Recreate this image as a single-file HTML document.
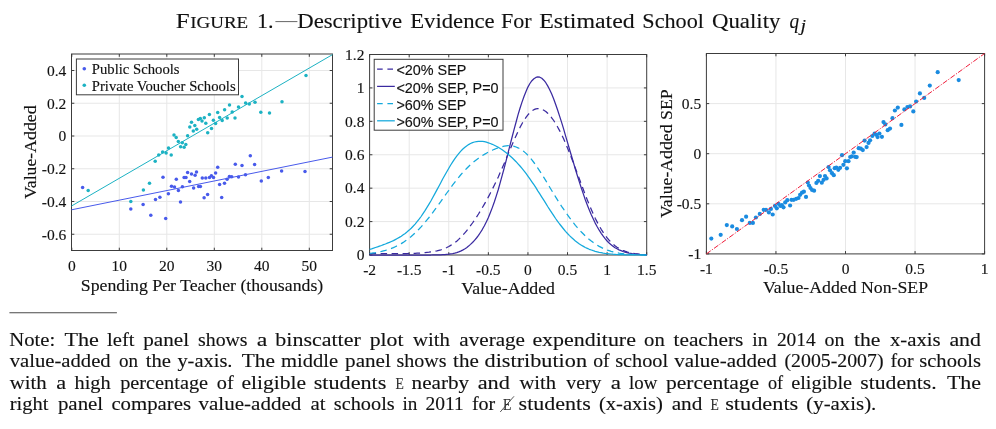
<!DOCTYPE html>
<html><head><meta charset="utf-8"><title>Figure 1</title>
<style>
html,body{margin:0;padding:0;background:#fff;}
body{width:996px;height:429px;overflow:hidden;}
svg{display:block;will-change:transform;font-family:"Liberation Serif", serif;fill:#111;}
svg text{fill:#111;stroke:#111;stroke-width:0.14px;}
svg .cm text{stroke-width:0.12px;}
</style></head><body>
<svg width="996" height="429" viewBox="0 0 996 429">
<rect width="996" height="429" fill="#fff"/>
<g>
<line x1="119.30" y1="54" x2="119.30" y2="250.5" stroke="#e7e7e7" stroke-width="1"/>
<line x1="166.80" y1="54" x2="166.80" y2="250.5" stroke="#e7e7e7" stroke-width="1"/>
<line x1="214.30" y1="54" x2="214.30" y2="250.5" stroke="#e7e7e7" stroke-width="1"/>
<line x1="261.80" y1="54" x2="261.80" y2="250.5" stroke="#e7e7e7" stroke-width="1"/>
<line x1="309.30" y1="54" x2="309.30" y2="250.5" stroke="#e7e7e7" stroke-width="1"/>
<line x1="71.5" y1="70.50" x2="332.5" y2="70.50" stroke="#e7e7e7" stroke-width="1"/>
<line x1="71.5" y1="103.25" x2="332.5" y2="103.25" stroke="#e7e7e7" stroke-width="1"/>
<line x1="71.5" y1="136.00" x2="332.5" y2="136.00" stroke="#e7e7e7" stroke-width="1"/>
<line x1="71.5" y1="168.75" x2="332.5" y2="168.75" stroke="#e7e7e7" stroke-width="1"/>
<line x1="71.5" y1="201.50" x2="332.5" y2="201.50" stroke="#e7e7e7" stroke-width="1"/>
<line x1="71.5" y1="234.25" x2="332.5" y2="234.25" stroke="#e7e7e7" stroke-width="1"/>
<rect x="71.5" y="54" width="261.0" height="196.5" fill="none" stroke="#3c3c3c" stroke-width="1"/>
<line x1="71.80" y1="250.5" x2="71.80" y2="247.7" stroke="#3c3c3c" stroke-width="1"/>
<line x1="71.80" y1="54" x2="71.80" y2="56.8" stroke="#3c3c3c" stroke-width="1"/>
<line x1="119.30" y1="250.5" x2="119.30" y2="247.7" stroke="#3c3c3c" stroke-width="1"/>
<line x1="119.30" y1="54" x2="119.30" y2="56.8" stroke="#3c3c3c" stroke-width="1"/>
<line x1="166.80" y1="250.5" x2="166.80" y2="247.7" stroke="#3c3c3c" stroke-width="1"/>
<line x1="166.80" y1="54" x2="166.80" y2="56.8" stroke="#3c3c3c" stroke-width="1"/>
<line x1="214.30" y1="250.5" x2="214.30" y2="247.7" stroke="#3c3c3c" stroke-width="1"/>
<line x1="214.30" y1="54" x2="214.30" y2="56.8" stroke="#3c3c3c" stroke-width="1"/>
<line x1="261.80" y1="250.5" x2="261.80" y2="247.7" stroke="#3c3c3c" stroke-width="1"/>
<line x1="261.80" y1="54" x2="261.80" y2="56.8" stroke="#3c3c3c" stroke-width="1"/>
<line x1="309.30" y1="250.5" x2="309.30" y2="247.7" stroke="#3c3c3c" stroke-width="1"/>
<line x1="309.30" y1="54" x2="309.30" y2="56.8" stroke="#3c3c3c" stroke-width="1"/>
<line x1="71.5" y1="70.50" x2="74.3" y2="70.50" stroke="#3c3c3c" stroke-width="1"/>
<line x1="332.5" y1="70.50" x2="329.7" y2="70.50" stroke="#3c3c3c" stroke-width="1"/>
<line x1="71.5" y1="103.25" x2="74.3" y2="103.25" stroke="#3c3c3c" stroke-width="1"/>
<line x1="332.5" y1="103.25" x2="329.7" y2="103.25" stroke="#3c3c3c" stroke-width="1"/>
<line x1="71.5" y1="136.00" x2="74.3" y2="136.00" stroke="#3c3c3c" stroke-width="1"/>
<line x1="332.5" y1="136.00" x2="329.7" y2="136.00" stroke="#3c3c3c" stroke-width="1"/>
<line x1="71.5" y1="168.75" x2="74.3" y2="168.75" stroke="#3c3c3c" stroke-width="1"/>
<line x1="332.5" y1="168.75" x2="329.7" y2="168.75" stroke="#3c3c3c" stroke-width="1"/>
<line x1="71.5" y1="201.50" x2="74.3" y2="201.50" stroke="#3c3c3c" stroke-width="1"/>
<line x1="332.5" y1="201.50" x2="329.7" y2="201.50" stroke="#3c3c3c" stroke-width="1"/>
<line x1="71.5" y1="234.25" x2="74.3" y2="234.25" stroke="#3c3c3c" stroke-width="1"/>
<line x1="332.5" y1="234.25" x2="329.7" y2="234.25" stroke="#3c3c3c" stroke-width="1"/>
<line x1="71.5" y1="206.0" x2="332.5" y2="54.6" stroke="#1cb2c3" stroke-width="1.0"/>
<line x1="71.5" y1="209.8" x2="332.5" y2="157.1" stroke="#485aeb" stroke-width="1.0"/>
<circle cx="155.2" cy="161.3" r="1.75" fill="#1cb2c3"/>
<circle cx="158.7" cy="155.0" r="1.75" fill="#1cb2c3"/>
<circle cx="162.6" cy="152.1" r="1.75" fill="#1cb2c3"/>
<circle cx="166.1" cy="152.9" r="1.75" fill="#1cb2c3"/>
<circle cx="168.5" cy="148.0" r="1.75" fill="#1cb2c3"/>
<circle cx="171.2" cy="155.0" r="1.75" fill="#1cb2c3"/>
<circle cx="174.0" cy="135.1" r="1.75" fill="#1cb2c3"/>
<circle cx="176.2" cy="137.6" r="1.75" fill="#1cb2c3"/>
<circle cx="178.3" cy="141.6" r="1.75" fill="#1cb2c3"/>
<circle cx="180.6" cy="146.8" r="1.75" fill="#1cb2c3"/>
<circle cx="182.3" cy="142.8" r="1.75" fill="#1cb2c3"/>
<circle cx="184.1" cy="147.3" r="1.75" fill="#1cb2c3"/>
<circle cx="185.8" cy="144.5" r="1.75" fill="#1cb2c3"/>
<circle cx="187.6" cy="135.8" r="1.75" fill="#1cb2c3"/>
<circle cx="189.8" cy="127.0" r="1.75" fill="#1cb2c3"/>
<circle cx="191.5" cy="122.3" r="1.75" fill="#1cb2c3"/>
<circle cx="193.3" cy="130.9" r="1.75" fill="#1cb2c3"/>
<circle cx="194.8" cy="125.4" r="1.75" fill="#1cb2c3"/>
<circle cx="196.7" cy="129.2" r="1.75" fill="#1cb2c3"/>
<circle cx="198.4" cy="119.6" r="1.75" fill="#1cb2c3"/>
<circle cx="200.3" cy="118.6" r="1.75" fill="#1cb2c3"/>
<circle cx="202.0" cy="121.1" r="1.75" fill="#1cb2c3"/>
<circle cx="204.3" cy="117.7" r="1.75" fill="#1cb2c3"/>
<circle cx="205.8" cy="123.3" r="1.75" fill="#1cb2c3"/>
<circle cx="207.7" cy="132.8" r="1.75" fill="#1cb2c3"/>
<circle cx="209.4" cy="114.6" r="1.75" fill="#1cb2c3"/>
<circle cx="211.5" cy="128.6" r="1.75" fill="#1cb2c3"/>
<circle cx="213.4" cy="120.2" r="1.75" fill="#1cb2c3"/>
<circle cx="215.6" cy="123.6" r="1.75" fill="#1cb2c3"/>
<circle cx="217.7" cy="112.4" r="1.75" fill="#1cb2c3"/>
<circle cx="219.6" cy="117.5" r="1.75" fill="#1cb2c3"/>
<circle cx="222.2" cy="120.5" r="1.75" fill="#1cb2c3"/>
<circle cx="224.6" cy="109.8" r="1.75" fill="#1cb2c3"/>
<circle cx="227.2" cy="118.0" r="1.75" fill="#1cb2c3"/>
<circle cx="229.5" cy="105.0" r="1.75" fill="#1cb2c3"/>
<circle cx="232.2" cy="111.9" r="1.75" fill="#1cb2c3"/>
<circle cx="235.0" cy="118.0" r="1.75" fill="#1cb2c3"/>
<circle cx="238.5" cy="107.1" r="1.75" fill="#1cb2c3"/>
<circle cx="242.0" cy="96.6" r="1.75" fill="#1cb2c3"/>
<circle cx="245.6" cy="103.0" r="1.75" fill="#1cb2c3"/>
<circle cx="249.3" cy="104.0" r="1.75" fill="#1cb2c3"/>
<circle cx="255" cy="102.2" r="1.75" fill="#1cb2c3"/>
<circle cx="260.8" cy="112.2" r="1.75" fill="#1cb2c3"/>
<circle cx="269.5" cy="112.9" r="1.75" fill="#1cb2c3"/>
<circle cx="282" cy="101.7" r="1.75" fill="#1cb2c3"/>
<circle cx="306" cy="75.6" r="1.75" fill="#1cb2c3"/>
<circle cx="88.2" cy="190.6" r="1.75" fill="#1cb2c3"/>
<circle cx="130.8" cy="201.6" r="1.75" fill="#1cb2c3"/>
<circle cx="143.4" cy="189.9" r="1.75" fill="#1cb2c3"/>
<circle cx="149.5" cy="183.2" r="1.75" fill="#1cb2c3"/>
<circle cx="82.6" cy="187.6" r="1.75" fill="#485aeb"/>
<circle cx="130.8" cy="208.9" r="1.75" fill="#485aeb"/>
<circle cx="143.1" cy="204.4" r="1.75" fill="#485aeb"/>
<circle cx="150.8" cy="215.2" r="1.75" fill="#485aeb"/>
<circle cx="155.5" cy="199.5" r="1.75" fill="#485aeb"/>
<circle cx="159.9" cy="197.2" r="1.75" fill="#485aeb"/>
<circle cx="163" cy="177.3" r="1.75" fill="#485aeb"/>
<circle cx="165.7" cy="218.5" r="1.75" fill="#485aeb"/>
<circle cx="168.4" cy="193.7" r="1.75" fill="#485aeb"/>
<circle cx="171.5" cy="186.2" r="1.75" fill="#485aeb"/>
<circle cx="174.5" cy="187.1" r="1.75" fill="#485aeb"/>
<circle cx="176.3" cy="179.2" r="1.75" fill="#485aeb"/>
<circle cx="178.4" cy="190.6" r="1.75" fill="#485aeb"/>
<circle cx="180.5" cy="201.9" r="1.75" fill="#485aeb"/>
<circle cx="182.4" cy="186.7" r="1.75" fill="#485aeb"/>
<circle cx="184.1" cy="177.4" r="1.75" fill="#485aeb"/>
<circle cx="186.0" cy="177.6" r="1.75" fill="#485aeb"/>
<circle cx="187.6" cy="172.6" r="1.75" fill="#485aeb"/>
<circle cx="189.7" cy="181.5" r="1.75" fill="#485aeb"/>
<circle cx="191.5" cy="174.1" r="1.75" fill="#485aeb"/>
<circle cx="193.6" cy="188.1" r="1.75" fill="#485aeb"/>
<circle cx="195.1" cy="175.2" r="1.75" fill="#485aeb"/>
<circle cx="196.5" cy="171.9" r="1.75" fill="#485aeb"/>
<circle cx="198.6" cy="186.4" r="1.75" fill="#485aeb"/>
<circle cx="200.4" cy="186.4" r="1.75" fill="#485aeb"/>
<circle cx="202.3" cy="178.0" r="1.75" fill="#485aeb"/>
<circle cx="204.1" cy="197.7" r="1.75" fill="#485aeb"/>
<circle cx="205.8" cy="178.1" r="1.75" fill="#485aeb"/>
<circle cx="207.6" cy="194.4" r="1.75" fill="#485aeb"/>
<circle cx="209.5" cy="177.4" r="1.75" fill="#485aeb"/>
<circle cx="211.4" cy="175.7" r="1.75" fill="#485aeb"/>
<circle cx="213.5" cy="177.6" r="1.75" fill="#485aeb"/>
<circle cx="215.6" cy="173.1" r="1.75" fill="#485aeb"/>
<circle cx="217.7" cy="167.3" r="1.75" fill="#485aeb"/>
<circle cx="219.6" cy="184.4" r="1.75" fill="#485aeb"/>
<circle cx="221.7" cy="197.6" r="1.75" fill="#485aeb"/>
<circle cx="224.5" cy="183.2" r="1.75" fill="#485aeb"/>
<circle cx="227.1" cy="179.2" r="1.75" fill="#485aeb"/>
<circle cx="229.4" cy="176.4" r="1.75" fill="#485aeb"/>
<circle cx="231.7" cy="176.7" r="1.75" fill="#485aeb"/>
<circle cx="235.3" cy="164.3" r="1.75" fill="#485aeb"/>
<circle cx="238.5" cy="177.1" r="1.75" fill="#485aeb"/>
<circle cx="242" cy="165.4" r="1.75" fill="#485aeb"/>
<circle cx="245.5" cy="174.8" r="1.75" fill="#485aeb"/>
<circle cx="250.3" cy="155.8" r="1.75" fill="#485aeb"/>
<circle cx="254.6" cy="164.5" r="1.75" fill="#485aeb"/>
<circle cx="261.3" cy="181.0" r="1.75" fill="#485aeb"/>
<circle cx="268.3" cy="177.6" r="1.75" fill="#485aeb"/>
<circle cx="281.6" cy="171.1" r="1.75" fill="#485aeb"/>
<circle cx="305.0" cy="171.4" r="1.75" fill="#485aeb"/>
<rect x="76.4" y="59" width="162.1" height="35.8" fill="#fff" stroke="#3c3c3c" stroke-width="1"/>
<circle cx="84.3" cy="68.8" r="1.8" fill="#485aeb"/><circle cx="84.3" cy="85.3" r="1.8" fill="#1cb2c3"/>
<text x="91.8" y="74.4" font-size="14.7">Public Schools</text><text x="91.8" y="91.2" font-size="14.7">Private Voucher Schools</text>
<text x="71.80" y="270.80" text-anchor="middle" font-size="15.5">0</text>
<text x="119.30" y="270.80" text-anchor="middle" font-size="15.5">10</text>
<text x="166.80" y="270.80" text-anchor="middle" font-size="15.5">20</text>
<text x="214.30" y="270.80" text-anchor="middle" font-size="15.5">30</text>
<text x="261.80" y="270.80" text-anchor="middle" font-size="15.5">40</text>
<text x="309.30" y="270.80" text-anchor="middle" font-size="15.5">50</text>
<text x="66.30" y="75.80" text-anchor="end" font-size="15.5">0.4</text>
<text x="66.30" y="108.55" text-anchor="end" font-size="15.5">0.2</text>
<text x="66.30" y="141.30" text-anchor="end" font-size="15.5">0</text>
<text x="66.30" y="174.05" text-anchor="end" font-size="15.5">-0.2</text>
<text x="66.30" y="206.80" text-anchor="end" font-size="15.5">-0.4</text>
<text x="66.30" y="239.55" text-anchor="end" font-size="15.5">-0.6</text>
<text x="202.00" y="290.80" text-anchor="middle" font-size="17.75">Spending Per Teacher (thousands)</text>
<text transform="translate(35.70,152.25) rotate(-90)" text-anchor="middle" font-size="17.75">Value-Added</text>
</g>
<g>
<line x1="409.19" y1="54.5" x2="409.19" y2="255" stroke="#e7e7e7" stroke-width="1"/>
<line x1="448.77" y1="54.5" x2="448.77" y2="255" stroke="#e7e7e7" stroke-width="1"/>
<line x1="488.36" y1="54.5" x2="488.36" y2="255" stroke="#e7e7e7" stroke-width="1"/>
<line x1="527.94" y1="54.5" x2="527.94" y2="255" stroke="#e7e7e7" stroke-width="1"/>
<line x1="567.53" y1="54.5" x2="567.53" y2="255" stroke="#e7e7e7" stroke-width="1"/>
<line x1="607.11" y1="54.5" x2="607.11" y2="255" stroke="#e7e7e7" stroke-width="1"/>
<line x1="369.6" y1="87.92" x2="646.7" y2="87.92" stroke="#e7e7e7" stroke-width="1"/>
<line x1="369.6" y1="121.34" x2="646.7" y2="121.34" stroke="#e7e7e7" stroke-width="1"/>
<line x1="369.6" y1="154.75" x2="646.7" y2="154.75" stroke="#e7e7e7" stroke-width="1"/>
<line x1="369.6" y1="188.17" x2="646.7" y2="188.17" stroke="#e7e7e7" stroke-width="1"/>
<line x1="369.6" y1="221.58" x2="646.7" y2="221.58" stroke="#e7e7e7" stroke-width="1"/>
<rect x="369.6" y="54.5" width="277.1" height="200.5" fill="none" stroke="#3c3c3c" stroke-width="1"/>
<line x1="369.60" y1="255" x2="369.60" y2="252.2" stroke="#3c3c3c" stroke-width="1"/>
<line x1="369.60" y1="54.5" x2="369.60" y2="57.3" stroke="#3c3c3c" stroke-width="1"/>
<line x1="409.19" y1="255" x2="409.19" y2="252.2" stroke="#3c3c3c" stroke-width="1"/>
<line x1="409.19" y1="54.5" x2="409.19" y2="57.3" stroke="#3c3c3c" stroke-width="1"/>
<line x1="448.77" y1="255" x2="448.77" y2="252.2" stroke="#3c3c3c" stroke-width="1"/>
<line x1="448.77" y1="54.5" x2="448.77" y2="57.3" stroke="#3c3c3c" stroke-width="1"/>
<line x1="488.36" y1="255" x2="488.36" y2="252.2" stroke="#3c3c3c" stroke-width="1"/>
<line x1="488.36" y1="54.5" x2="488.36" y2="57.3" stroke="#3c3c3c" stroke-width="1"/>
<line x1="527.94" y1="255" x2="527.94" y2="252.2" stroke="#3c3c3c" stroke-width="1"/>
<line x1="527.94" y1="54.5" x2="527.94" y2="57.3" stroke="#3c3c3c" stroke-width="1"/>
<line x1="567.53" y1="255" x2="567.53" y2="252.2" stroke="#3c3c3c" stroke-width="1"/>
<line x1="567.53" y1="54.5" x2="567.53" y2="57.3" stroke="#3c3c3c" stroke-width="1"/>
<line x1="607.11" y1="255" x2="607.11" y2="252.2" stroke="#3c3c3c" stroke-width="1"/>
<line x1="607.11" y1="54.5" x2="607.11" y2="57.3" stroke="#3c3c3c" stroke-width="1"/>
<line x1="646.70" y1="255" x2="646.70" y2="252.2" stroke="#3c3c3c" stroke-width="1"/>
<line x1="646.70" y1="54.5" x2="646.70" y2="57.3" stroke="#3c3c3c" stroke-width="1"/>
<line x1="369.6" y1="54.50" x2="372.40000000000003" y2="54.50" stroke="#3c3c3c" stroke-width="1"/>
<line x1="646.7" y1="54.50" x2="643.9000000000001" y2="54.50" stroke="#3c3c3c" stroke-width="1"/>
<line x1="369.6" y1="87.92" x2="372.40000000000003" y2="87.92" stroke="#3c3c3c" stroke-width="1"/>
<line x1="646.7" y1="87.92" x2="643.9000000000001" y2="87.92" stroke="#3c3c3c" stroke-width="1"/>
<line x1="369.6" y1="121.34" x2="372.40000000000003" y2="121.34" stroke="#3c3c3c" stroke-width="1"/>
<line x1="646.7" y1="121.34" x2="643.9000000000001" y2="121.34" stroke="#3c3c3c" stroke-width="1"/>
<line x1="369.6" y1="154.75" x2="372.40000000000003" y2="154.75" stroke="#3c3c3c" stroke-width="1"/>
<line x1="646.7" y1="154.75" x2="643.9000000000001" y2="154.75" stroke="#3c3c3c" stroke-width="1"/>
<line x1="369.6" y1="188.17" x2="372.40000000000003" y2="188.17" stroke="#3c3c3c" stroke-width="1"/>
<line x1="646.7" y1="188.17" x2="643.9000000000001" y2="188.17" stroke="#3c3c3c" stroke-width="1"/>
<line x1="369.6" y1="221.58" x2="372.40000000000003" y2="221.58" stroke="#3c3c3c" stroke-width="1"/>
<line x1="646.7" y1="221.58" x2="643.9000000000001" y2="221.58" stroke="#3c3c3c" stroke-width="1"/>
<line x1="369.6" y1="255.00" x2="372.40000000000003" y2="255.00" stroke="#3c3c3c" stroke-width="1"/>
<line x1="646.7" y1="255.00" x2="643.9000000000001" y2="255.00" stroke="#3c3c3c" stroke-width="1"/>
<path d="M369.6,253.6 L371.6,253.6 L373.6,253.6 L375.5,253.6 L377.5,253.6 L379.5,253.6 L381.5,253.6 L383.5,253.6 L385.4,253.6 L387.4,253.6 L389.4,253.6 L391.4,253.6 L393.4,253.6 L395.3,253.6 L397.3,253.6 L399.3,253.5 L401.3,253.5 L403.2,253.5 L405.2,253.5 L407.2,253.5 L409.2,253.4 L411.2,253.4 L413.1,253.3 L415.1,253.3 L417.1,253.2 L419.1,253.1 L421.1,253.0 L423.0,252.8 L425.0,252.6 L427.0,252.4 L429.0,252.2 L431.0,251.8 L432.9,251.5 L434.9,251.2 L436.9,250.8 L438.9,250.3 L440.9,249.8 L442.8,249.1 L444.8,248.4 L446.8,247.5 L448.8,246.5 L450.7,245.4 L452.7,244.2 L454.7,242.8 L456.7,241.2 L458.7,239.4 L460.6,237.5 L462.6,235.4 L464.6,233.2 L466.6,230.8 L468.6,228.4 L470.5,225.7 L472.5,223.0 L474.5,220.1 L476.5,217.1 L478.5,214.0 L480.4,210.8 L482.4,207.5 L484.4,204.1 L486.4,200.6 L488.4,196.9 L490.3,193.2 L492.3,189.3 L494.3,185.3 L496.3,181.2 L498.3,176.9 L500.2,172.5 L502.2,168.0 L504.2,163.5 L506.2,158.8 L508.1,154.1 L510.1,149.4 L512.1,144.7 L514.1,140.1 L516.1,135.7 L518.0,131.5 L520.0,127.4 L522.0,123.7 L524.0,120.4 L526.0,117.4 L527.9,114.8 L529.9,112.6 L531.9,110.9 L533.9,109.7 L535.9,108.9 L537.8,108.6 L539.8,108.7 L541.8,109.2 L543.8,110.2 L545.8,111.5 L547.7,113.3 L549.7,115.3 L551.7,117.8 L553.7,120.5 L555.6,123.6 L557.6,127.0 L559.6,130.6 L561.6,134.6 L563.6,138.8 L565.5,143.2 L567.5,147.9 L569.5,152.8 L571.5,157.9 L573.5,163.0 L575.4,168.3 L577.4,173.7 L579.4,179.0 L581.4,184.4 L583.4,189.7 L585.3,194.9 L587.3,199.9 L589.3,204.8 L591.3,209.5 L593.3,214.0 L595.2,218.2 L597.2,222.1 L599.2,225.8 L601.2,229.3 L603.2,232.4 L605.1,235.3 L607.1,237.8 L609.1,240.2 L611.1,242.3 L613.0,244.1 L615.0,245.7 L617.0,247.2 L619.0,248.4 L621.0,249.5 L622.9,250.4 L624.9,251.2 L626.9,251.9 L628.9,252.5 L630.9,252.9 L632.8,253.3 L634.8,253.7 L636.8,253.9 L638.8,254.1 L640.8,254.3 L642.7,254.5 L644.7,254.6 L646.7,254.7" fill="none" stroke="#3a2aa0" stroke-width="1.25" stroke-dasharray="6.5 4.5" stroke-linejoin="round"/>
<path d="M369.6,255.0 L371.6,255.0 L373.6,255.0 L375.5,255.0 L377.5,255.0 L379.5,255.0 L381.5,255.0 L383.5,255.0 L385.4,255.0 L387.4,255.0 L389.4,255.0 L391.4,255.0 L393.4,255.0 L395.3,255.0 L397.3,255.0 L399.3,255.0 L401.3,255.0 L403.2,255.0 L405.2,255.0 L407.2,255.0 L409.2,255.0 L411.2,255.0 L413.1,255.0 L415.1,255.0 L417.1,255.0 L419.1,255.0 L421.1,255.0 L423.0,255.0 L425.0,255.0 L427.0,255.0 L429.0,255.0 L431.0,255.0 L432.9,254.9 L434.9,254.9 L436.9,254.9 L438.9,254.8 L440.9,254.8 L442.8,254.7 L444.8,254.6 L446.8,254.4 L448.8,254.2 L450.7,253.9 L452.7,253.6 L454.7,253.2 L456.7,252.6 L458.7,251.9 L460.6,251.1 L462.6,250.1 L464.6,249.0 L466.6,247.7 L468.6,246.1 L470.5,244.4 L472.5,242.5 L474.5,240.3 L476.5,238.0 L478.5,235.4 L480.4,232.5 L482.4,229.3 L484.4,225.7 L486.4,221.8 L488.4,217.5 L490.3,212.8 L492.3,207.6 L494.3,202.0 L496.3,195.9 L498.3,189.5 L500.2,182.6 L502.2,175.4 L504.2,168.0 L506.2,160.3 L508.1,152.6 L510.1,144.8 L512.1,137.0 L514.1,129.4 L516.1,122.0 L518.0,114.9 L520.0,108.3 L522.0,102.1 L524.0,96.5 L526.0,91.5 L527.9,87.1 L529.9,83.5 L531.9,80.7 L533.9,78.7 L535.9,77.4 L537.8,76.9 L539.8,77.2 L541.8,78.3 L543.8,80.2 L545.8,82.7 L547.7,85.9 L549.7,89.7 L551.7,94.1 L553.7,99.0 L555.6,104.3 L557.6,110.0 L559.6,116.1 L561.6,122.4 L563.6,128.9 L565.5,135.6 L567.5,142.4 L569.5,149.2 L571.5,156.0 L573.5,162.7 L575.4,169.3 L577.4,175.8 L579.4,182.1 L581.4,188.2 L583.4,194.1 L585.3,199.7 L587.3,205.0 L589.3,210.0 L591.3,214.7 L593.3,219.0 L595.2,223.1 L597.2,226.8 L599.2,230.2 L601.2,233.3 L603.2,236.2 L605.1,238.7 L607.1,241.0 L609.1,243.0 L611.1,244.7 L613.0,246.3 L615.0,247.7 L617.0,248.8 L619.0,249.9 L621.0,250.7 L622.9,251.5 L624.9,252.1 L626.9,252.6 L628.9,253.1 L630.9,253.4 L632.8,253.8 L634.8,254.0 L636.8,254.2 L638.8,254.4 L640.8,254.5 L642.7,254.6 L644.7,254.7 L646.7,254.8" fill="none" stroke="#3a2aa0" stroke-width="1.25" stroke-linejoin="round"/>
<path d="M369.6,253.4 L371.6,253.2 L373.6,252.9 L375.5,252.6 L377.5,252.2 L379.5,251.8 L381.5,251.4 L383.5,250.9 L385.4,250.4 L387.4,249.8 L389.4,249.1 L391.4,248.4 L393.4,247.6 L395.3,246.7 L397.3,245.7 L399.3,244.7 L401.3,243.6 L403.2,242.4 L405.2,241.0 L407.2,239.6 L409.2,238.1 L411.2,236.5 L413.1,234.8 L415.1,232.9 L417.1,231.0 L419.1,229.0 L421.1,226.9 L423.0,224.7 L425.0,222.3 L427.0,219.9 L429.0,217.5 L431.0,214.9 L432.9,212.3 L434.9,209.6 L436.9,206.9 L438.9,204.2 L440.9,201.4 L442.8,198.6 L444.8,195.8 L446.8,193.0 L448.8,190.3 L450.7,187.6 L452.7,184.9 L454.7,182.3 L456.7,179.8 L458.7,177.3 L460.6,175.0 L462.6,172.7 L464.6,170.5 L466.6,168.5 L468.6,166.5 L470.5,164.7 L472.5,162.9 L474.5,161.3 L476.5,159.7 L478.5,158.2 L480.4,156.9 L482.4,155.6 L484.4,154.4 L486.4,153.2 L488.4,152.1 L490.3,151.1 L492.3,150.2 L494.3,149.3 L496.3,148.5 L498.3,147.7 L500.2,147.1 L502.2,146.6 L504.2,146.2 L506.2,145.9 L508.1,145.7 L510.1,145.8 L512.1,146.0 L514.1,146.3 L516.1,147.0 L518.0,147.8 L520.0,148.8 L522.0,150.1 L524.0,151.6 L526.0,153.4 L527.9,155.3 L529.9,157.5 L531.9,159.9 L533.9,162.5 L535.9,165.2 L537.8,168.1 L539.8,171.1 L541.8,174.2 L543.8,177.4 L545.8,180.6 L547.7,183.9 L549.7,187.2 L551.7,190.5 L553.7,193.7 L555.6,196.9 L557.6,200.1 L559.6,203.2 L561.6,206.3 L563.6,209.2 L565.5,212.1 L567.5,214.9 L569.5,217.7 L571.5,220.3 L573.5,222.8 L575.4,225.3 L577.4,227.6 L579.4,229.9 L581.4,232.0 L583.4,234.0 L585.3,236.0 L587.3,237.8 L589.3,239.5 L591.3,241.1 L593.3,242.6 L595.2,243.9 L597.2,245.2 L599.2,246.4 L601.2,247.4 L603.2,248.4 L605.1,249.3 L607.1,250.0 L609.1,250.7 L611.1,251.4 L613.0,251.9 L615.0,252.4 L617.0,252.8 L619.0,253.2 L621.0,253.5 L622.9,253.7 L624.9,253.9 L626.9,254.1 L628.9,254.3 L630.9,254.4 L632.8,254.5 L634.8,254.6 L636.8,254.7 L638.8,254.8 L640.8,254.8 L642.7,254.9 L644.7,254.9 L646.7,254.9" fill="none" stroke="#14a9dc" stroke-width="1.25" stroke-dasharray="6.5 4.5" stroke-linejoin="round"/>
<path d="M369.6,249.3 L371.6,248.8 L373.6,248.2 L375.5,247.5 L377.5,246.9 L379.5,246.2 L381.5,245.5 L383.5,244.7 L385.4,244.0 L387.4,243.2 L389.4,242.4 L391.4,241.5 L393.4,240.6 L395.3,239.6 L397.3,238.5 L399.3,237.4 L401.3,236.2 L403.2,234.8 L405.2,233.4 L407.2,231.8 L409.2,230.1 L411.2,228.3 L413.1,226.3 L415.1,224.1 L417.1,221.7 L419.1,219.2 L421.1,216.5 L423.0,213.6 L425.0,210.6 L427.0,207.4 L429.0,204.1 L431.0,200.7 L432.9,197.2 L434.9,193.6 L436.9,189.9 L438.9,186.2 L440.9,182.5 L442.8,178.8 L444.8,175.2 L446.8,171.7 L448.8,168.3 L450.7,165.0 L452.7,161.9 L454.7,158.9 L456.7,156.2 L458.7,153.7 L460.6,151.4 L462.6,149.3 L464.6,147.5 L466.6,145.9 L468.6,144.6 L470.5,143.5 L472.5,142.6 L474.5,142.0 L476.5,141.6 L478.5,141.3 L480.4,141.3 L482.4,141.4 L484.4,141.7 L486.4,142.2 L488.4,142.8 L490.3,143.5 L492.3,144.3 L494.3,145.2 L496.3,146.2 L498.3,147.3 L500.2,148.5 L502.2,149.8 L504.2,151.2 L506.2,152.7 L508.1,154.3 L510.1,156.0 L512.1,157.8 L514.1,159.7 L516.1,161.7 L518.0,163.8 L520.0,166.0 L522.0,168.4 L524.0,170.8 L526.0,173.4 L527.9,176.1 L529.9,178.9 L531.9,181.8 L533.9,184.7 L535.9,187.7 L537.8,190.8 L539.8,193.9 L541.8,197.1 L543.8,200.2 L545.8,203.4 L547.7,206.5 L549.7,209.6 L551.7,212.6 L553.7,215.6 L555.6,218.5 L557.6,221.3 L559.6,224.0 L561.6,226.5 L563.6,229.0 L565.5,231.3 L567.5,233.5 L569.5,235.6 L571.5,237.5 L573.5,239.3 L575.4,241.0 L577.4,242.5 L579.4,244.0 L581.4,245.2 L583.4,246.4 L585.3,247.5 L587.3,248.4 L589.3,249.3 L591.3,250.0 L593.3,250.7 L595.2,251.3 L597.2,251.8 L599.2,252.3 L601.2,252.7 L603.2,253.1 L605.1,253.4 L607.1,253.6 L609.1,253.8 L611.1,254.0 L613.0,254.2 L615.0,254.3 L617.0,254.5 L619.0,254.6 L621.0,254.6 L622.9,254.7 L624.9,254.8 L626.9,254.8 L628.9,254.8 L630.9,254.9 L632.8,254.9 L634.8,254.9 L636.8,254.9 L638.8,254.9 L640.8,255.0 L642.7,255.0 L644.7,255.0 L646.7,255.0" fill="none" stroke="#14a9dc" stroke-width="1.25" stroke-linejoin="round"/>
<rect x="374.2" y="59.3" width="128.8" height="70.9" fill="#fff" stroke="#3c3c3c" stroke-width="1"/>
<line x1="377.1" y1="69.1" x2="394.8" y2="69.1" stroke="#3a2aa0" stroke-width="1.25" stroke-dasharray="5.6 4.7"/>
<text x="396.4" y="74.7" font-size="14.4" font-family='"Liberation Sans", sans-serif'>&lt;20% SEP</text>
<line x1="377.1" y1="86.4" x2="394.8" y2="86.4" stroke="#3a2aa0" stroke-width="1.25"/>
<text x="396.4" y="92.7" font-size="14.4" font-family='"Liberation Sans", sans-serif'>&lt;20% SEP, P=0</text>
<line x1="377.1" y1="103.7" x2="394.8" y2="103.7" stroke="#14a9dc" stroke-width="1.25" stroke-dasharray="5.6 4.7"/>
<text x="396.4" y="109.6" font-size="14.4" font-family='"Liberation Sans", sans-serif'>&gt;60% SEP</text>
<line x1="377.1" y1="120.8" x2="394.8" y2="120.8" stroke="#14a9dc" stroke-width="1.25"/>
<text x="396.4" y="126.7" font-size="14.4" font-family='"Liberation Sans", sans-serif'>&gt;60% SEP, P=0</text>
<text x="369.60" y="274.80" text-anchor="middle" font-size="15.5">-2</text>
<text x="409.19" y="274.80" text-anchor="middle" font-size="15.5">-1.5</text>
<text x="448.77" y="274.80" text-anchor="middle" font-size="15.5">-1</text>
<text x="488.36" y="274.80" text-anchor="middle" font-size="15.5">-0.5</text>
<text x="527.94" y="274.80" text-anchor="middle" font-size="15.5">0</text>
<text x="567.53" y="274.80" text-anchor="middle" font-size="15.5">0.5</text>
<text x="607.11" y="274.80" text-anchor="middle" font-size="15.5">1</text>
<text x="646.70" y="274.80" text-anchor="middle" font-size="15.5">1.5</text>
<text x="364.40" y="59.80" text-anchor="end" font-size="15.5">1.2</text>
<text x="364.40" y="93.22" text-anchor="end" font-size="15.5">1</text>
<text x="364.40" y="126.64" text-anchor="end" font-size="15.5">0.8</text>
<text x="364.40" y="160.05" text-anchor="end" font-size="15.5">0.6</text>
<text x="364.40" y="193.47" text-anchor="end" font-size="15.5">0.4</text>
<text x="364.40" y="226.88" text-anchor="end" font-size="15.5">0.2</text>
<text x="364.40" y="260.30" text-anchor="end" font-size="15.5">0</text>
<text x="508.15" y="294.20" text-anchor="middle" font-size="17.75">Value-Added</text>
<text transform="translate(0.00,154.75) rotate(-90)" text-anchor="middle" font-size="17.75"></text>
</g>
<g>
<line x1="775.95" y1="53.5" x2="775.95" y2="253.9" stroke="#e7e7e7" stroke-width="1"/>
<line x1="845.50" y1="53.5" x2="845.50" y2="253.9" stroke="#e7e7e7" stroke-width="1"/>
<line x1="915.05" y1="53.5" x2="915.05" y2="253.9" stroke="#e7e7e7" stroke-width="1"/>
<line x1="706.4" y1="103.60" x2="984.6" y2="103.60" stroke="#e7e7e7" stroke-width="1"/>
<line x1="706.4" y1="153.70" x2="984.6" y2="153.70" stroke="#e7e7e7" stroke-width="1"/>
<line x1="706.4" y1="203.80" x2="984.6" y2="203.80" stroke="#e7e7e7" stroke-width="1"/>
<rect x="706.4" y="53.5" width="278.20000000000005" height="200.4" fill="none" stroke="#3c3c3c" stroke-width="1"/>
<line x1="706.40" y1="253.9" x2="706.40" y2="251.1" stroke="#3c3c3c" stroke-width="1"/>
<line x1="706.40" y1="53.5" x2="706.40" y2="56.3" stroke="#3c3c3c" stroke-width="1"/>
<line x1="775.95" y1="253.9" x2="775.95" y2="251.1" stroke="#3c3c3c" stroke-width="1"/>
<line x1="775.95" y1="53.5" x2="775.95" y2="56.3" stroke="#3c3c3c" stroke-width="1"/>
<line x1="845.50" y1="253.9" x2="845.50" y2="251.1" stroke="#3c3c3c" stroke-width="1"/>
<line x1="845.50" y1="53.5" x2="845.50" y2="56.3" stroke="#3c3c3c" stroke-width="1"/>
<line x1="915.05" y1="253.9" x2="915.05" y2="251.1" stroke="#3c3c3c" stroke-width="1"/>
<line x1="915.05" y1="53.5" x2="915.05" y2="56.3" stroke="#3c3c3c" stroke-width="1"/>
<line x1="984.60" y1="253.9" x2="984.60" y2="251.1" stroke="#3c3c3c" stroke-width="1"/>
<line x1="984.60" y1="53.5" x2="984.60" y2="56.3" stroke="#3c3c3c" stroke-width="1"/>
<line x1="706.4" y1="103.60" x2="709.1999999999999" y2="103.60" stroke="#3c3c3c" stroke-width="1"/>
<line x1="984.6" y1="103.60" x2="981.8000000000001" y2="103.60" stroke="#3c3c3c" stroke-width="1"/>
<line x1="706.4" y1="153.70" x2="709.1999999999999" y2="153.70" stroke="#3c3c3c" stroke-width="1"/>
<line x1="984.6" y1="153.70" x2="981.8000000000001" y2="153.70" stroke="#3c3c3c" stroke-width="1"/>
<line x1="706.4" y1="203.80" x2="709.1999999999999" y2="203.80" stroke="#3c3c3c" stroke-width="1"/>
<line x1="984.6" y1="203.80" x2="981.8000000000001" y2="203.80" stroke="#3c3c3c" stroke-width="1"/>
<line x1="706.4" y1="253.90" x2="709.1999999999999" y2="253.90" stroke="#3c3c3c" stroke-width="1"/>
<line x1="984.6" y1="253.90" x2="981.8000000000001" y2="253.90" stroke="#3c3c3c" stroke-width="1"/>
<circle cx="711.3" cy="238.6" r="2.1" fill="#1a8be0"/>
<circle cx="720.7" cy="234.8" r="2.1" fill="#1a8be0"/>
<circle cx="726.8" cy="225.1" r="2.1" fill="#1a8be0"/>
<circle cx="732.2" cy="226.4" r="2.1" fill="#1a8be0"/>
<circle cx="736.9" cy="229.0" r="2.1" fill="#1a8be0"/>
<circle cx="742" cy="220.2" r="2.1" fill="#1a8be0"/>
<circle cx="746.1" cy="216.7" r="2.1" fill="#1a8be0"/>
<circle cx="749.8" cy="222.9" r="2.1" fill="#1a8be0"/>
<circle cx="752.9" cy="222.9" r="2.1" fill="#1a8be0"/>
<circle cx="755.9" cy="217.5" r="2.1" fill="#1a8be0"/>
<circle cx="759.8" cy="213.9" r="2.1" fill="#1a8be0"/>
<circle cx="763.7" cy="209.8" r="2.1" fill="#1a8be0"/>
<circle cx="766" cy="209.8" r="2.1" fill="#1a8be0"/>
<circle cx="768.9" cy="212.4" r="2.1" fill="#1a8be0"/>
<circle cx="770.9" cy="208.9" r="2.1" fill="#1a8be0"/>
<circle cx="772.7" cy="214.5" r="2.1" fill="#1a8be0"/>
<circle cx="775" cy="205.9" r="2.1" fill="#1a8be0"/>
<circle cx="776.8" cy="208.3" r="2.1" fill="#1a8be0"/>
<circle cx="778.5" cy="203.8" r="2.1" fill="#1a8be0"/>
<circle cx="780.4" cy="206.0" r="2.1" fill="#1a8be0"/>
<circle cx="781.9" cy="205.2" r="2.1" fill="#1a8be0"/>
<circle cx="783.5" cy="207.3" r="2.1" fill="#1a8be0"/>
<circle cx="785.2" cy="202.4" r="2.1" fill="#1a8be0"/>
<circle cx="787.3" cy="200.2" r="2.1" fill="#1a8be0"/>
<circle cx="790.1" cy="205.5" r="2.1" fill="#1a8be0"/>
<circle cx="791.5" cy="199.8" r="2.1" fill="#1a8be0"/>
<circle cx="793.7" cy="199.8" r="2.1" fill="#1a8be0"/>
<circle cx="796.2" cy="198.8" r="2.1" fill="#1a8be0"/>
<circle cx="798.5" cy="198.0" r="2.1" fill="#1a8be0"/>
<circle cx="800.1" cy="194.8" r="2.1" fill="#1a8be0"/>
<circle cx="802" cy="192.7" r="2.1" fill="#1a8be0"/>
<circle cx="803.9" cy="191.7" r="2.1" fill="#1a8be0"/>
<circle cx="806" cy="196.9" r="2.1" fill="#1a8be0"/>
<circle cx="807.8" cy="182.5" r="2.1" fill="#1a8be0"/>
<circle cx="809" cy="185.5" r="2.1" fill="#1a8be0"/>
<circle cx="810.5" cy="188.0" r="2.1" fill="#1a8be0"/>
<circle cx="812.1" cy="190.0" r="2.1" fill="#1a8be0"/>
<circle cx="814.1" cy="190.7" r="2.1" fill="#1a8be0"/>
<circle cx="816.4" cy="182.9" r="2.1" fill="#1a8be0"/>
<circle cx="818.2" cy="180.8" r="2.1" fill="#1a8be0"/>
<circle cx="819.9" cy="176.1" r="2.1" fill="#1a8be0"/>
<circle cx="821.8" cy="182.7" r="2.1" fill="#1a8be0"/>
<circle cx="823.6" cy="179.8" r="2.1" fill="#1a8be0"/>
<circle cx="825" cy="176.0" r="2.1" fill="#1a8be0"/>
<circle cx="826.6" cy="178.4" r="2.1" fill="#1a8be0"/>
<circle cx="828.6" cy="167.1" r="2.1" fill="#1a8be0"/>
<circle cx="830" cy="170.3" r="2.1" fill="#1a8be0"/>
<circle cx="832" cy="173.2" r="2.1" fill="#1a8be0"/>
<circle cx="833.8" cy="175.2" r="2.1" fill="#1a8be0"/>
<circle cx="834.7" cy="168.2" r="2.1" fill="#1a8be0"/>
<circle cx="836.3" cy="167.5" r="2.1" fill="#1a8be0"/>
<circle cx="838.3" cy="169.8" r="2.1" fill="#1a8be0"/>
<circle cx="840.1" cy="167.8" r="2.1" fill="#1a8be0"/>
<circle cx="842" cy="155.2" r="2.1" fill="#1a8be0"/>
<circle cx="843.4" cy="164.8" r="2.1" fill="#1a8be0"/>
<circle cx="845.2" cy="161.2" r="2.1" fill="#1a8be0"/>
<circle cx="846.9" cy="168.3" r="2.1" fill="#1a8be0"/>
<circle cx="848.5" cy="161.2" r="2.1" fill="#1a8be0"/>
<circle cx="850.2" cy="157.0" r="2.1" fill="#1a8be0"/>
<circle cx="851.9" cy="156.3" r="2.1" fill="#1a8be0"/>
<circle cx="853.7" cy="152.6" r="2.1" fill="#1a8be0"/>
<circle cx="855.3" cy="156.9" r="2.1" fill="#1a8be0"/>
<circle cx="856.7" cy="157.1" r="2.1" fill="#1a8be0"/>
<circle cx="858.7" cy="148.2" r="2.1" fill="#1a8be0"/>
<circle cx="860.8" cy="148.7" r="2.1" fill="#1a8be0"/>
<circle cx="862.8" cy="150.1" r="2.1" fill="#1a8be0"/>
<circle cx="864.6" cy="140.6" r="2.1" fill="#1a8be0"/>
<circle cx="866.6" cy="147.1" r="2.1" fill="#1a8be0"/>
<circle cx="868.5" cy="142.9" r="2.1" fill="#1a8be0"/>
<circle cx="870.1" cy="140.3" r="2.1" fill="#1a8be0"/>
<circle cx="872.3" cy="136.0" r="2.1" fill="#1a8be0"/>
<circle cx="874.6" cy="133.7" r="2.1" fill="#1a8be0"/>
<circle cx="876.3" cy="134.8" r="2.1" fill="#1a8be0"/>
<circle cx="877.6" cy="137.1" r="2.1" fill="#1a8be0"/>
<circle cx="879.4" cy="133.5" r="2.1" fill="#1a8be0"/>
<circle cx="881.9" cy="136.8" r="2.1" fill="#1a8be0"/>
<circle cx="883.5" cy="122.1" r="2.1" fill="#1a8be0"/>
<circle cx="885.3" cy="124.4" r="2.1" fill="#1a8be0"/>
<circle cx="887.7" cy="130.2" r="2.1" fill="#1a8be0"/>
<circle cx="890" cy="128.6" r="2.1" fill="#1a8be0"/>
<circle cx="892.5" cy="118.2" r="2.1" fill="#1a8be0"/>
<circle cx="894.9" cy="110.5" r="2.1" fill="#1a8be0"/>
<circle cx="897.8" cy="107.6" r="2.1" fill="#1a8be0"/>
<circle cx="901.4" cy="124.9" r="2.1" fill="#1a8be0"/>
<circle cx="904.4" cy="109.4" r="2.1" fill="#1a8be0"/>
<circle cx="907.4" cy="107" r="2.1" fill="#1a8be0"/>
<circle cx="910.1" cy="106.4" r="2.1" fill="#1a8be0"/>
<circle cx="913.3" cy="111.4" r="2.1" fill="#1a8be0"/>
<circle cx="916.1" cy="101.5" r="2.1" fill="#1a8be0"/>
<circle cx="919.9" cy="93.4" r="2.1" fill="#1a8be0"/>
<circle cx="924.2" cy="97.9" r="2.1" fill="#1a8be0"/>
<circle cx="929.8" cy="85.6" r="2.1" fill="#1a8be0"/>
<circle cx="937.7" cy="72.2" r="2.1" fill="#1a8be0"/>
<circle cx="958.7" cy="80.1" r="2.1" fill="#1a8be0"/>
<line x1="706.4" y1="253.9" x2="984.6" y2="53.5" stroke="#f01c3a" stroke-width="1.0" stroke-dasharray="5.3 1.5 1.1 1.5"/>
<text x="706.40" y="273.70" text-anchor="middle" font-size="15.5">-1</text>
<text x="775.95" y="273.70" text-anchor="middle" font-size="15.5">-0.5</text>
<text x="845.50" y="273.70" text-anchor="middle" font-size="15.5">0</text>
<text x="915.05" y="273.70" text-anchor="middle" font-size="15.5">0.5</text>
<text x="984.60" y="273.70" text-anchor="middle" font-size="15.5">1</text>
<text x="701.20" y="108.90" text-anchor="end" font-size="15.5">0.5</text>
<text x="701.20" y="159.00" text-anchor="end" font-size="15.5">0</text>
<text x="701.20" y="209.10" text-anchor="end" font-size="15.5">-0.5</text>
<text x="701.20" y="259.20" text-anchor="end" font-size="15.5">-1</text>
<text x="845.50" y="293.10" text-anchor="middle" font-size="17.75">Value-Added Non-SEP</text>
<text transform="translate(672.00,153.70) rotate(-90)" text-anchor="middle" font-size="17.75">Value-Added SEP</text>
</g>
<g font-size="21.4" class="cm">
<text x="175.7" y="27.9" textLength="13.9" lengthAdjust="spacingAndGlyphs">F</text>
<text x="190.2" y="27.9" textLength="58.0" lengthAdjust="spacingAndGlyphs" font-size="16.264">IGURE</text>
<text x="257.0" y="27.9" textLength="16.6" lengthAdjust="spacingAndGlyphs">1.</text>
<line x1="275.4" y1="21.6" x2="297.4" y2="21.6" stroke="#555" stroke-width="0.9"/>
<text x="297.2" y="27.9" textLength="105.0" lengthAdjust="spacingAndGlyphs">Descriptive</text>
<text x="410.2" y="27.9" textLength="84.5" lengthAdjust="spacingAndGlyphs">Evidence</text>
<text x="501.0" y="27.9" textLength="30.7" lengthAdjust="spacingAndGlyphs">For</text>
<text x="539.3" y="27.9" textLength="95.4" lengthAdjust="spacingAndGlyphs">Estimated</text>
<text x="642.3" y="27.9" textLength="61.7" lengthAdjust="spacingAndGlyphs">School</text>
<text x="712.0" y="27.9" textLength="68.4" lengthAdjust="spacingAndGlyphs">Quality</text>
<text x="789.6" y="27.9" font-style="italic" textLength="9.6" lengthAdjust="spacingAndGlyphs">q</text>
<text x="800.6" y="31.299999999999997" font-style="italic" font-size="17.1" textLength="5.6" lengthAdjust="spacingAndGlyphs">j</text>
</g>
<line x1="9.4" y1="312.75" x2="116.9" y2="312.75" stroke="#4a4a4a" stroke-width="1.15"/>
<g font-size="19.0" class="cm">
<text x="9.2" y="346" textLength="46.0" lengthAdjust="spacingAndGlyphs">Note:</text>
<text x="64.5" y="346" textLength="34.4" lengthAdjust="spacingAndGlyphs">The</text>
<text x="107.1" y="346" textLength="27.5" lengthAdjust="spacingAndGlyphs">left</text>
<text x="143.3" y="346" textLength="45.8" lengthAdjust="spacingAndGlyphs">panel</text>
<text x="198.0" y="346" textLength="49.6" lengthAdjust="spacingAndGlyphs">shows</text>
<text x="256.8" y="346" textLength="10.6" lengthAdjust="spacingAndGlyphs">a</text>
<text x="275.3" y="346" textLength="85.5" lengthAdjust="spacingAndGlyphs">binscatter</text>
<text x="369.7" y="346" textLength="33.8" lengthAdjust="spacingAndGlyphs">plot</text>
<text x="412.9" y="346" textLength="37.0" lengthAdjust="spacingAndGlyphs">with</text>
<text x="459.3" y="346" textLength="65.7" lengthAdjust="spacingAndGlyphs">average</text>
<text x="532.4" y="346" textLength="103.5" lengthAdjust="spacingAndGlyphs">expenditure</text>
<text x="644.1" y="346" textLength="20.7" lengthAdjust="spacingAndGlyphs">on</text>
<text x="673.5" y="346" textLength="69.9" lengthAdjust="spacingAndGlyphs">teachers</text>
<text x="752.3" y="346" textLength="15.2" lengthAdjust="spacingAndGlyphs">in</text>
<text x="776.9" y="346" textLength="38.8" lengthAdjust="spacingAndGlyphs">2014</text>
<text x="824.6" y="346" textLength="19.9" lengthAdjust="spacingAndGlyphs">on</text>
<text x="854.0" y="346" textLength="26.4" lengthAdjust="spacingAndGlyphs">the</text>
<text x="889.9" y="346" textLength="50.8" lengthAdjust="spacingAndGlyphs">x-axis</text>
<text x="949.4" y="346" textLength="31.6" lengthAdjust="spacingAndGlyphs">and</text>
<text x="9.7" y="367" textLength="101.0" lengthAdjust="spacingAndGlyphs">value-added</text>
<text x="118.9" y="367" textLength="19.0" lengthAdjust="spacingAndGlyphs">on</text>
<text x="145.8" y="367" textLength="25.2" lengthAdjust="spacingAndGlyphs">the</text>
<text x="177.4" y="367" textLength="55.1" lengthAdjust="spacingAndGlyphs">y-axis.</text>
<text x="241.7" y="367" textLength="33.2" lengthAdjust="spacingAndGlyphs">The</text>
<text x="281.1" y="367" textLength="57.1" lengthAdjust="spacingAndGlyphs">middle</text>
<text x="345.1" y="367" textLength="45.8" lengthAdjust="spacingAndGlyphs">panel</text>
<text x="396.6" y="367" textLength="50.0" lengthAdjust="spacingAndGlyphs">shows</text>
<text x="453.1" y="367" textLength="25.7" lengthAdjust="spacingAndGlyphs">the</text>
<text x="484.6" y="367" textLength="102.4" lengthAdjust="spacingAndGlyphs">distribution</text>
<text x="593.2" y="367" textLength="16.4" lengthAdjust="spacingAndGlyphs">of</text>
<text x="615.2" y="367" textLength="52.9" lengthAdjust="spacingAndGlyphs">school</text>
<text x="674.2" y="367" textLength="102.6" lengthAdjust="spacingAndGlyphs">value-added</text>
<text x="784.5" y="367" textLength="99.0" lengthAdjust="spacingAndGlyphs">(2005-2007)</text>
<text x="890.4" y="367" textLength="23.2" lengthAdjust="spacingAndGlyphs">for</text>
<text x="919.2" y="367" textLength="61.8" lengthAdjust="spacingAndGlyphs">schools</text>
<text x="9.7" y="389" textLength="37.0" lengthAdjust="spacingAndGlyphs">with</text>
<text x="56.2" y="389" textLength="9.9" lengthAdjust="spacingAndGlyphs">a</text>
<text x="74.5" y="389" textLength="36.2" lengthAdjust="spacingAndGlyphs">high</text>
<text x="120.2" y="389" textLength="87.9" lengthAdjust="spacingAndGlyphs">percentage</text>
<text x="216.8" y="389" textLength="16.9" lengthAdjust="spacingAndGlyphs">of</text>
<text x="241.5" y="389" textLength="64.6" lengthAdjust="spacingAndGlyphs">eligible</text>
<text x="313.7" y="389" textLength="72.7" lengthAdjust="spacingAndGlyphs">students</text>
<text x="411.6" y="389" textLength="57.6" lengthAdjust="spacingAndGlyphs">nearby</text>
<text x="477.7" y="389" textLength="32.2" lengthAdjust="spacingAndGlyphs">and</text>
<text x="519.4" y="389" textLength="36.7" lengthAdjust="spacingAndGlyphs">with</text>
<text x="566.3" y="389" textLength="35.0" lengthAdjust="spacingAndGlyphs">very</text>
<text x="610.7" y="389" textLength="10.2" lengthAdjust="spacingAndGlyphs">a</text>
<text x="629.0" y="389" textLength="28.3" lengthAdjust="spacingAndGlyphs">low</text>
<text x="665.9" y="389" textLength="93.3" lengthAdjust="spacingAndGlyphs">percentage</text>
<text x="767.9" y="389" textLength="15.2" lengthAdjust="spacingAndGlyphs">of</text>
<text x="791.2" y="389" textLength="60.9" lengthAdjust="spacingAndGlyphs">eligible</text>
<text x="860.3" y="389" textLength="76.4" lengthAdjust="spacingAndGlyphs">students.</text>
<text x="946.9" y="389" textLength="34.1" lengthAdjust="spacingAndGlyphs">The</text>
<text x="9.7" y="410" textLength="38.8" lengthAdjust="spacingAndGlyphs">right</text>
<text x="57.9" y="410" textLength="45.3" lengthAdjust="spacingAndGlyphs">panel</text>
<text x="111.4" y="410" textLength="79.7" lengthAdjust="spacingAndGlyphs">compares</text>
<text x="198.5" y="410" textLength="102.8" lengthAdjust="spacingAndGlyphs">value-added</text>
<text x="310.5" y="410" textLength="15.1" lengthAdjust="spacingAndGlyphs">at</text>
<text x="333.8" y="410" textLength="60.9" lengthAdjust="spacingAndGlyphs">schools</text>
<text x="402.4" y="410" textLength="14.9" lengthAdjust="spacingAndGlyphs">in</text>
<text x="425.4" y="410" textLength="38.3" lengthAdjust="spacingAndGlyphs">2011</text>
<text x="471.9" y="410" textLength="23.4" lengthAdjust="spacingAndGlyphs">for</text>
<text x="518.6" y="410" textLength="72.1" lengthAdjust="spacingAndGlyphs">students</text>
<text x="598.9" y="410" textLength="64.1" lengthAdjust="spacingAndGlyphs">(x-axis)</text>
<text x="671.7" y="410" textLength="30.7" lengthAdjust="spacingAndGlyphs">and</text>
<text x="725.2" y="410" textLength="73.1" lengthAdjust="spacingAndGlyphs">students</text>
<text x="806.3" y="410" textLength="70.0" lengthAdjust="spacingAndGlyphs">(y-axis).</text>
<text transform="translate(395.5,389) scale(0.8,1)" font-size="17.1" style="fill:#333">E</text>
<text transform="translate(503.1,410) scale(0.8,1)" font-size="17.1" style="fill:#333">E</text>
<line x1="500.2" y1="412.0" x2="514.0" y2="396.3" stroke="#222" stroke-width="0.75"/>
<text transform="translate(710.4,410) scale(0.8,1)" font-size="17.1" style="fill:#333">E</text>
</g>
</svg>
</body></html>
